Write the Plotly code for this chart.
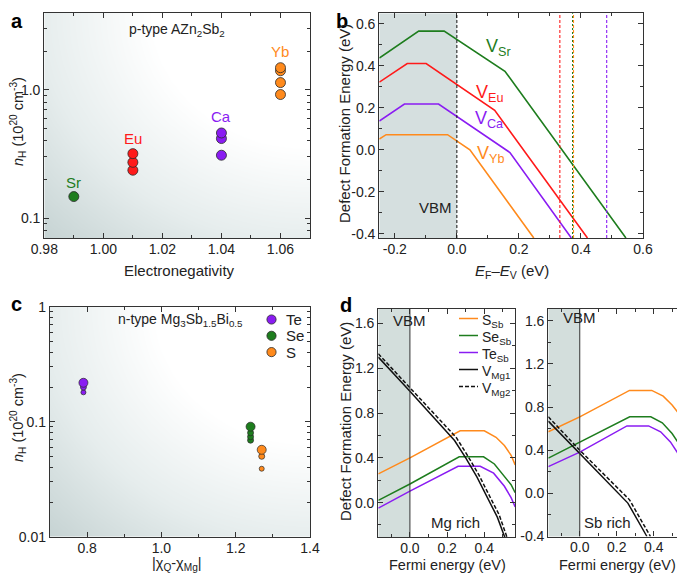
import numpy as np
import plotly.graph_objects as go

# The page body adds an 8px margin, so the figure is laid out in page pixels
# shifted by that offset.
OFF = 8
FW, FH = 685 - OFF, 578 - OFF

# ---------------- data: panel a ----------------
a_chi_sr = [0.99]
a_nh_sr = [0.147]
a_chi_eu = [1.01, 1.01, 1.01]
a_nh_eu = [0.318, 0.272, 0.236]
a_chi_ca = [1.04, 1.04, 1.04]
a_nh_ca = [0.461, 0.417, 0.309]
a_chi_yb = [1.06, 1.06, 1.06, 1.06]
a_nh_yb = [1.49, 1.41, 1.14, 0.92]

# ---------------- data: panel b ----------------
b_sr_x = [-0.25, -0.123, -0.041, 0.155, 0.545]
b_sr_y = [0.437, 0.565, 0.565, 0.374, -0.42]
b_eu_x = [-0.25, -0.160, -0.099, 0.122, 0.421]
b_eu_y = [0.322, 0.411, 0.411, 0.188, -0.42]
b_ca_x = [-0.25, -0.169, -0.059, 0.171, 0.369]
b_ca_y = [0.137, 0.218, 0.218, -0.013, -0.42]
b_yb_x = [-0.25, -0.228, -0.030, 0.042, 0.248]
b_yb_y = [0.051, 0.072, 0.072, 0.0, -0.42]
b_fermi_eu = 0.332
b_fermi_sr = 0.373
b_fermi_yb = 0.376
b_fermi_ca = 0.483

# ---------------- data: panel c ----------------
c_te_x = [0.79, 0.79, 0.79]
c_te_nh = [0.218, 0.200, 0.180]
c_se_x = [1.24, 1.24, 1.24, 1.24]
c_se_nh = [0.0905, 0.080, 0.074, 0.069]
c_s_x = [1.27, 1.27, 1.27]
c_s_nh = [0.057, 0.050, 0.039]

# ---------------- data: panel d (Mg rich) ----------------
dm_s_x = [-0.17, 0.0, 0.27, 0.40, 0.463, 0.508, 0.544, 0.566]
dm_s_y = [0.257, 0.40, 0.642, 0.642, 0.584, 0.51, 0.423, 0.336]
dm_se_x = [-0.17, 0.0, 0.265, 0.396, 0.454, 0.508, 0.544, 0.566]
dm_se_y = [0.020, 0.166, 0.409, 0.409, 0.345, 0.234, 0.16, 0.088]
dm_te_x = [-0.17, 0.0, 0.259, 0.378, 0.45, 0.508, 0.544, 0.566]
dm_te_y = [-0.05, 0.102, 0.324, 0.324, 0.263, 0.146, 0.044, -0.038]
dm_v1_x = [-0.17, 0.0, 0.24, 0.30, 0.36, 0.43, 0.47, 0.51]
dm_v1_y = [1.30, 0.996, 0.555, 0.40, 0.23, 0.0, -0.13, -0.31]
dm_v2_x = [-0.17, 0.0, 0.25, 0.31, 0.37, 0.44, 0.48, 0.522]
dm_v2_y = [1.33, 1.03, 0.58, 0.42, 0.25, 0.02, -0.11, -0.31]

# ---------------- data: panel d (Sb rich) ----------------
ds_s_x = [-0.17, 0.0, 0.269, 0.389, 0.451, 0.499, 0.535, 0.565]
ds_s_y = [0.571, 0.71, 0.955, 0.955, 0.902, 0.819, 0.741, 0.63]
ds_se_x = [-0.17, 0.0, 0.27, 0.384, 0.446, 0.499, 0.535, 0.565]
ds_se_y = [0.327, 0.477, 0.71, 0.71, 0.654, 0.555, 0.462, 0.35]
ds_te_x = [-0.17, 0.0, 0.255, 0.372, 0.437, 0.49, 0.526, 0.565]
ds_te_y = [0.248, 0.382, 0.626, 0.626, 0.571, 0.477, 0.384, 0.26]
ds_v1_x = [-0.17, 0.0, 0.26, 0.363]
ds_v1_y = [0.67, 0.37, -0.09, -0.40]
ds_v2_x = [-0.17, 0.0, 0.269, 0.382]
ds_v2_y = [0.71, 0.40, -0.06, -0.40]

# legend labels
c_legend_names = ["Te", "Se", "S"]
d_legend_names = ["S<sub>Sb</sub>", "Se<sub>Sb</sub>", "Te<sub>Sb</sub>",
                  "V<sub>Mg1</sub>", "V<sub>Mg2</sub>"]

GREEN = "#1e7d1e"
RED = "#ff1a1a"
PURPLE = "#8a1cf2"
ORANGE = "#ff8a1c"
BLACK = "#111111"
FONT = "Liberation Sans, Arial, sans-serif"
AX = "#333333"
SHORT_DASH = "3px,2px"


def px_x(p):
    return (p - OFF) / FW


def px_y(p):
    return 1 - (p - OFF) / FH


fig = go.Figure()


# ---------- gradient backgrounds ----------
def gradient(xr, yr, logy, xa, ya):
    u = np.linspace(0, 1, 60)
    v = np.linspace(0, 1, 60)
    U, V = np.meshgrid(u, v)
    d = np.sqrt((1 - U) ** 2 + (1 - V) ** 2) / np.sqrt(2)
    xs = xr[0] + u * (xr[1] - xr[0])
    ys = yr[0] + v * (yr[1] - yr[0])
    if logy:
        ys = 10 ** ys
    fig.add_trace(go.Heatmap(
        x=xs, y=ys, z=d, zmin=0, zmax=1, zsmooth="best", showscale=False,
        hoverinfo="skip", xaxis=xa, yaxis=ya,
        colorscale=[[0, "#ffffff"], [0.42, "#ffffff"], [0.72, "#e6eded"], [1, "#c6d3d3"]]))


A_XR = [0.98, 1.07]
A_YR = [-1.156, 0.6]
C_XR = [0.7, 1.4]
C_YR = [-2, 0]
gradient(A_XR, A_YR, True, "x", "y")
gradient(C_XR, C_YR, True, "x3", "y3")

# ---------- panel a ----------
for xs, ys, col in [(a_chi_sr, a_nh_sr, GREEN), (a_chi_eu, a_nh_eu, RED),
                    (a_chi_ca, a_nh_ca, PURPLE), (a_chi_yb, a_nh_yb, ORANGE)]:
    fig.add_trace(go.Scatter(x=xs[::-1], y=ys[::-1], mode="markers", xaxis="x", yaxis="y",
                             marker=dict(color=col, size=10, opacity=1,
                                         line=dict(color="#2a2a2a", width=0.8)),
                             showlegend=False))

# ---------- panel b ----------
for xs, ys, col in [(b_sr_x, b_sr_y, GREEN), (b_eu_x, b_eu_y, RED),
                    (b_ca_x, b_ca_y, PURPLE), (b_yb_x, b_yb_y, ORANGE)]:
    fig.add_trace(go.Scatter(x=xs, y=ys, mode="lines", xaxis="x2", yaxis="y2",
                             line=dict(color=col, width=1.6), showlegend=False))

# ---------- panel c ----------
for xs, ys, col, sizes in [
        (c_te_x, c_te_nh, PURPLE, [9, 6, 5]),
        (c_se_x, c_se_nh, GREEN, [9, 6, 6, 6]),
        (c_s_x, c_s_nh, ORANGE, [9, 6, 5])]:
    fig.add_trace(go.Scatter(x=xs[::-1], y=ys[::-1], mode="markers", xaxis="x3", yaxis="y3",
                             showlegend=False,
                             marker=dict(color=col, size=sizes[::-1], opacity=1,
                                         line=dict(color="#2a2a2a", width=0.7))))

# ---------- panel d ----------
d_cols = [ORANGE, GREEN, PURPLE, BLACK, BLACK]
d_dash = ["solid", "solid", "solid", "solid", "4px,2px"]
for (xs, ys), col, dash in zip([(dm_s_x, dm_s_y), (dm_se_x, dm_se_y), (dm_te_x, dm_te_y),
                                (dm_v1_x, dm_v1_y), (dm_v2_x, dm_v2_y)], d_cols, d_dash):
    fig.add_trace(go.Scatter(x=xs, y=ys, mode="lines", xaxis="x4", yaxis="y4",
                             showlegend=False, line=dict(color=col, width=1.5, dash=dash)))
for (xs, ys), col, dash in zip([(ds_s_x, ds_s_y), (ds_se_x, ds_se_y), (ds_te_x, ds_te_y),
                                (ds_v1_x, ds_v1_y), (ds_v2_x, ds_v2_y)], d_cols, d_dash):
    fig.add_trace(go.Scatter(x=xs, y=ys, mode="lines", xaxis="x5", yaxis="y5",
                             showlegend=False, line=dict(color=col, width=1.5, dash=dash)))


def axstyle(**kw):
    base = dict(showline=True, linecolor=AX, linewidth=1.3, mirror="ticks",
                ticks="inside", ticklen=5, tickwidth=1, tickcolor=AX,
                showgrid=False, zeroline=False, automargin=False,
                tickfont=dict(family=FONT, size=14, color="#222"))
    base.update(kw)
    return base


def xstyle(**kw):
    return axstyle(ticklabelstandoff=-2, **kw)


minor_log = [v * m for v in [0.01, 0.1, 1] for m in range(2, 10)]

D_XR = [-0.17, 0.565]
shapes = []
# panel b VBM region
shapes.append(dict(type="rect", xref="x2", yref="y2", x0=-0.25, x1=0, y0=-0.42, y1=0.65,
                   fillcolor="#d5dfdf", line=dict(width=0), layer="below"))
shapes.append(dict(type="line", xref="x2", yref="y2 domain", x0=0, x1=0, y0=0, y1=1,
                   line=dict(color="#111", width=1, dash=SHORT_DASH)))
for xv, col, dash in [(b_fermi_eu, RED, SHORT_DASH), (b_fermi_sr, GREEN, "2px,2px"),
                      (b_fermi_yb, ORANGE, SHORT_DASH), (b_fermi_ca, PURPLE, SHORT_DASH)]:
    shapes.append(dict(type="line", xref="x2", yref="y2 domain", x0=xv, x1=xv, y0=0, y1=1,
                       line=dict(color=col, width=1.1, dash=dash)))
# panel d VBM regions
for xr, yr in [("x4", "y4"), ("x5", "y5")]:
    shapes.append(dict(type="rect", xref=xr, yref=yr + " domain", x0=D_XR[0], x1=0, y0=0, y1=1,
                       fillcolor="#d3dedc", line=dict(width=0), layer="below"))
    shapes.append(dict(type="line", xref=xr, yref=yr + " domain", x0=0, x1=0, y0=0, y1=1,
                       line=dict(color="#333", width=1)))

ann = []


def label(txt, x, y, xref, yref, col="#222", size=15, **kw):
    kw.setdefault("xanchor", "center")
    kw.setdefault("yanchor", "middle")
    ann.append(dict(text=txt, x=x, y=y, xref=xref, yref=yref, showarrow=False,
                    font=dict(family=FONT, size=size, color=col), **kw))


def plabel(txt, x, y, **kw):
    label(txt, px_x(x), px_y(y), "paper", "paper", **kw)


# legend of panel c (symbols + text)
for i, (name, col) in enumerate(zip(c_legend_names, [PURPLE, GREEN, ORANGE])):
    yc = 319.5 + i * 16.3
    xc = 271.5
    r = 4.6
    shapes.append(dict(type="circle", xref="paper", yref="paper",
                       x0=px_x(xc - r), x1=px_x(xc + r), y0=px_y(yc + r), y1=px_y(yc - r),
                       fillcolor=col, line=dict(color="#2a2a2a", width=0.8)))
    plabel(name, 284, yc, size=15, xanchor="left")

# legend of panel d (line samples + text)
for i, (name, col, dash) in enumerate(zip(d_legend_names, d_cols, d_dash)):
    yc = 318.5 + i * 17.0
    shapes.append(dict(type="line", xref="paper", yref="paper",
                       x0=px_x(459), x1=px_x(478), y0=px_y(yc), y1=px_y(yc),
                       line=dict(color=col, width=1.5, dash=dash)))
    plabel(name, 479.5, yc + 2.5, size=14, xanchor="left")

# panel letters
for t, x, y in [("a", 17, 21), ("b", 342, 21), ("c", 16, 304), ("d", 346, 305)]:
    plabel("<b>%s</b>" % t, x, y, col="#000", size=20)

# axis titles
nH_title = "<i>n</i><sub>H</sub> (10<sup>20</sup> cm<sup>-3</sup>)"
plabel("Electronegativity", 179, 270, size=15)
plabel("<i>E</i><sub>F</sub>–<i>E</i><sub>V</sub> (eV)", 511.7, 271, size=15)
plabel("|χ<sub>Q</sub>-χ<sub>Mg</sub>|", 177, 564, size=14.5)
plabel("Fermi energy (eV)", 447.5, 565, size=14.5)
plabel("Fermi energy (eV)", 617.5, 565, size=14.5)
plabel(nH_title, 18, 122, size=14.5, textangle=-90)
plabel(nH_title, 18, 418, size=14.5, textangle=-90)
plabel("Defect Formation Energy (eV)", 345, 124, size=15, textangle=-90)
plabel("Defect Formation Energy (eV)", 345, 422, size=15, textangle=-90)

# panel a labels (log axis -> log10 positions)
label("p-type AZn<sub>2</sub>Sb<sub>2</sub>", 1.0249, 0.47, "x", "y", size=14)
label("Sr", 0.99, -0.724, "x", "y", col=GREEN, size=15)
label("Eu", 1.01, -0.378, "x", "y", col=RED, size=15)
label("Ca", 1.04, -0.209, "x", "y", col=PURPLE, size=15)
label("Yb", 1.06, 0.298, "x", "y", col=ORANGE, size=15)

# panel b labels
label("V<sub>Sr</sub>", 0.135, 0.485, "x2", "y2", col=GREEN, size=18)
label("V<sub>Eu</sub>", 0.105, 0.27, "x2", "y2", col=RED, size=18)
label("V<sub>Ca</sub>", 0.105, 0.145, "x2", "y2", col=PURPLE, size=18)
label("V<sub>Yb</sub>", 0.11, -0.02, "x2", "y2", col=ORANGE, size=18)
label("VBM", -0.07, -0.275, "x2", "y2", size=15)

# panel c label
label("n-type Mg<sub>3</sub>Sb<sub>1.5</sub>Bi<sub>0.5</sub>", 1.05, -0.116, "x3", "y3", size=14)

# panel d labels
label("VBM", 0.0, 1.63, "x4", "y4", size=15)
label("Mg rich", 0.247, -0.175, "x4", "y4", size=15)
label("VBM", 0.0, 1.63, "x5", "y5", size=15)
label("Sb rich", 0.149, -0.27, "x5", "y5", size=15)

fig.update_layout(
    width=FW, height=FH, margin=dict(l=0, r=0, t=0, b=0),
    paper_bgcolor="white", plot_bgcolor="white",
    font=dict(family=FONT, color="#222"), showlegend=False,
    shapes=shapes, annotations=ann,
    xaxis=xstyle(domain=[px_x(44.3), px_x(310)], anchor="y", range=A_XR,
                 tickvals=[0.98, 1.0, 1.02, 1.04, 1.06],
                 ticktext=["0.98", "1.00", "1.02", "1.04", "1.06"],
                 minor=dict(ticks="inside", ticklen=3, tickcolor=AX, dtick=0.01, tick0=0.98)),
    yaxis=axstyle(domain=[px_y(238), px_y(13)], anchor="x", type="log", range=A_YR,
                  tickvals=[0.1, 1.0], ticktext=["0.1", "1.0"],
                  minor=dict(ticks="inside", ticklen=3, tickcolor=AX, tickmode="array",
                             tickvals=minor_log)),
    xaxis2=xstyle(domain=[px_x(379.3), px_x(643)], anchor="y2", range=[-0.25, 0.6],
                  tickvals=[-0.2, 0.0, 0.2, 0.4, 0.6], ticktext=["-0.2", "0.0", "0.2", "0.4", "0.6"],
                  minor=dict(ticks="inside", ticklen=3, tickcolor=AX, dtick=0.1, tick0=0)),
    yaxis2=axstyle(domain=[px_y(238), px_y(13.3)], anchor="x2", range=[-0.42, 0.65],
                   tickvals=[-0.4, -0.2, 0.0, 0.2, 0.4, 0.6],
                   ticktext=["-0.4", "-0.2", "0.0", "0.2", "0.4", "0.6"],
                   minor=dict(ticks="inside", ticklen=3, tickcolor=AX, dtick=0.1, tick0=0)),
    xaxis3=xstyle(domain=[px_x(50), px_x(310)], anchor="y3", range=C_XR,
                  tickvals=[0.8, 1.0, 1.2, 1.4], ticktext=["0.8", "1.0", "1.2", "1.4"],
                  minor=dict(ticks="inside", ticklen=3, tickcolor=AX, dtick=0.1, tick0=0)),
    yaxis3=axstyle(domain=[px_y(536.7), px_y(306.7)], anchor="x3", type="log", range=C_YR,
                   tickvals=[0.01, 0.1, 1], ticktext=["0.01", "0.1", "1"],
                   minor=dict(ticks="inside", ticklen=3, tickcolor=AX, tickmode="array",
                              tickvals=minor_log)),
    xaxis4=xstyle(domain=[px_x(378.3), px_x(515)], anchor="y4", range=D_XR,
                  tickvals=[0.0, 0.2, 0.4], ticktext=["0.0", "0.2", "0.4"],
                  minor=dict(ticks="inside", ticklen=3, tickcolor=AX, dtick=0.1, tick0=0)),
    yaxis4=axstyle(domain=[px_y(537.3), px_y(309)], anchor="x4", range=[-0.31, 1.73],
                   tickvals=[0.0, 0.4, 0.8, 1.2, 1.6], ticktext=["0.0", "0.4", "0.8", "1.2", "1.6"],
                   minor=dict(ticks="inside", ticklen=3, tickcolor=AX, dtick=0.2, tick0=0)),
    xaxis5=xstyle(domain=[px_x(548.3), px_x(684.3)], anchor="y5", range=D_XR,
                  tickvals=[0.0, 0.2, 0.4], ticktext=["0.0", "0.2", "0.4"],
                  minor=dict(ticks="inside", ticklen=3, tickcolor=AX, dtick=0.1, tick0=0)),
    yaxis5=axstyle(domain=[px_y(536.5), px_y(309)], anchor="x5", range=[-0.4, 1.71],
                   tickvals=[-0.4, 0.0, 0.4, 0.8, 1.2, 1.6],
                   ticktext=["-0.4", "0.0", "0.4", "0.8", "1.2", "1.6"],
                   minor=dict(ticks="inside", ticklen=3, tickcolor=AX, dtick=0.2, tick0=0)),
)

fig.write_html("out.html")
